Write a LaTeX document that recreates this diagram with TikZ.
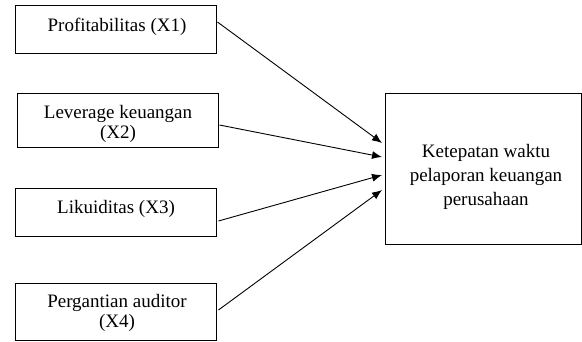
\documentclass[tikz,border=0pt]{standalone}
\usepackage{fontspec}
\setmainfont{Liberation Serif}
\usetikzlibrary{arrows.meta,calc}
\begin{document}
\begin{tikzpicture}[x=1pt,y=-1pt,
  box/.style={draw,line width=0.9pt,rectangle,inner sep=0pt},
  txt/.style={anchor=base,inner sep=0pt,font=\fontsize{19}{20}\selectfont},
  arr/.style={line width=0.9pt,-{Latex[length=10pt,width=8pt]}}]
\useasboundingbox (0,0) rectangle (582,341);
\node[box,minimum width=201pt,minimum height=48pt] (b1) at (115.5,29) {};
\node[box,minimum width=201pt,minimum height=54pt] (b2) at (117.5,120) {};
\node[box,minimum width=201pt,minimum height=48pt] (b3) at (115.5,212) {};
\node[box,minimum width=201pt,minimum height=57pt] (b4) at (115.5,311.5) {};
\node[box,minimum width=196pt,minimum height=151pt] (y) at (483,168.5) {};
\node[txt] (l1) at (117,31) {Profitabilitas (X1)};
\node[txt] (l2a) at (118,118) {Leverage keuangan};
\node[txt] (l2b) at (118,138) {(X2)};
\node[txt] (l3) at (116,213) {Likuiditas (X3)};
\node[txt] (l4a) at (117,307) {Pergantian auditor};
\node[txt] (l4b) at (117,327) {(X4)};
\node[txt] (ya) at (486,157) {Ketepatan waktu};
\node[txt] (yb) at (486,181) {pelaporan keuangan};
\node[txt] (yc) at (486,205) {perusahaan};
\coordinate (t1) at (382,143);
\coordinate (t2) at (382,157);
\coordinate (t3) at (382,175);
\coordinate (t4) at (382,190);
\draw[arr] ($(b1.east)+(1,-7)$) -- (t1);
\draw[arr] ($(b2.east)+(1,5)$) -- (t2);
\draw[arr] ($(b3.east)+(2,9)$) -- (t3);
\draw[arr] ($(b4.east)+(2,-1.5)$) -- (t4);
\end{tikzpicture}
\end{document}
